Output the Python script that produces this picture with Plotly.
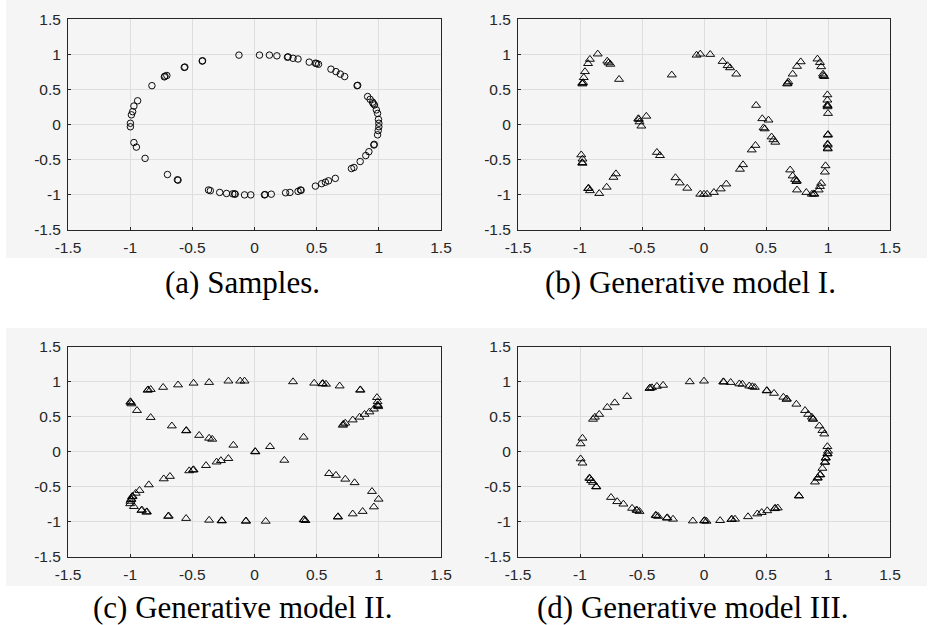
import plotly.graph_objects as go

W, H = 928, 625

tick_vals = [-1.5, -1, -0.5, 0, 0.5, 1, 1.5]
tick_text = ["-1.5", "-1", "-0.5", "0", "0.5", "1", "1.5"]

captions = ["(a) Samples.", "(b) Generative model I.",
            "(c) Generative model II.", "(d) Generative model III."]

# (a) Samples (circles)
a_x = [-0.125, 0.04, 0.12, 0.18, 0.265, 0.27, 0.31, 0.35, 0.44, 0.49, 0.50, 0.515,
       0.615, 0.655, 0.69, 0.725, 0.825, 0.83, 0.91, 0.93, 0.95, 0.955, 0.965, 0.98,
       0.99, 0.997, 1.0, 1.0, 0.995, 0.99, 0.96, 0.963, 0.92, 0.895, 0.85, 0.80, 0.78,
       0.65, 0.595, 0.57, 0.54, 0.49, 0.375, 0.37, 0.35, 0.285, 0.25, 0.135, 0.08,
       0.085, -0.03, -0.08, -0.155, -0.16, -0.175, -0.225, -0.28, -0.355, -0.37,
       -0.615, -0.62, -0.70, -0.88, -0.95, -0.97, -0.998, -0.998, -0.99, -0.98,
       -0.97, -0.94, -0.825, -0.725, -0.72, -0.705, -0.565, -0.56, -0.42, -0.418]
a_y = [0.99, 0.99, 0.99, 0.98, 0.96, 0.965, 0.945, 0.935, 0.89, 0.875, 0.87, 0.86,
       0.79, 0.755, 0.72, 0.685, 0.555, 0.56, 0.40, 0.36, 0.32, 0.30, 0.28, 0.21,
       0.16, 0.075, 0.02, -0.03, -0.085, -0.145, -0.29, -0.28, -0.385, -0.44, -0.525,
       -0.61, -0.625, -0.765, -0.80, -0.82, -0.84, -0.875, -0.935, -0.93, -0.95,
       -0.965, -0.97, -0.99, -1.0, -0.995, -1.0, -1.0, -0.99, -0.985, -0.985, -0.98,
       -0.965, -0.94, -0.93, -0.79, -0.785, -0.71, -0.48, -0.32, -0.255, -0.03, 0.02,
       0.14, 0.185, 0.265, 0.34, 0.555, 0.68, 0.69, 0.70, 0.815, 0.82, 0.905, 0.91]

# (b) Generative model I (triangles)
b_x = [-0.98, -0.982, -0.975, -0.97, -0.96, -0.935, -0.92, -0.857, -0.78, -0.77,
       -0.755, -0.685, -0.26, -0.525, -0.53, -0.52, -0.505, -0.465, -0.38, -0.355,
       -0.23, -0.195, -0.135, -0.03, 0.0, 0.025, 0.08, 0.135, 0.18, -0.06, -0.03,
       0.05, 0.15, 0.19, 0.21, 0.26, 0.29, 0.315, 0.385, 0.415, 0.42, 0.47, 0.52,
       0.48, 0.49, 0.545, 0.56, 0.575, 0.67, 0.675, 0.68, 0.715, 0.75, 0.78, 0.915,
       0.935, 0.945, 0.96, 0.963, 0.97, 0.995, 0.995, 0.995, 0.997, 0.996, 1.0, 1.0,
       0.998, 0.997, 0.998, 0.997, 0.998, 0.98, 0.975, 0.945, 0.935, 0.925, 0.89,
       0.885, 0.87, 0.825, 0.75, 0.745, 0.748, 0.735, 0.715, 0.695, -0.99, -0.98,
       -0.98, -0.982, -0.93, -0.935, -0.92, -0.845, -0.785, -0.73, -0.71]
b_y = [0.58, 0.59, 0.60, 0.67, 0.755, 0.87, 0.93, 1.006, 0.905, 0.88, 0.86, 0.645,
       0.707, 0.075, 0.085, 0.04, -0.02, 0.12, -0.395, -0.44, -0.755, -0.83, -0.905,
       -0.99, -0.99, -0.99, -0.965, -0.915, -0.845, 0.99, 1.005, 1.0, 0.90, 0.84,
       0.81, 0.72, -0.635, -0.57, -0.36, -0.295, 0.275, 0.085, 0.065, -0.045, -0.06,
       -0.175, -0.215, -0.25, 0.58, 0.59, 0.61, 0.72, 0.83, 0.895, 0.935, 0.885,
       0.825, 0.72, 0.70, 0.685, 0.425, 0.35, 0.28, 0.27, 0.255, 0.16, -0.14, -0.15,
       -0.275, -0.29, -0.335, -0.345, -0.585, -0.675, -0.835, -0.88, -0.93, -0.99,
       -0.985, -0.99, -0.965, -0.93, -0.81, -0.8, -0.78, -0.73, -0.645, -0.43, -0.49,
       -0.55, -0.54, -0.905, -0.91, -0.94, -0.98, -0.89, -0.75, -0.70]

# (c) Generative model II (triangles)
c_x = [-0.86, -0.855, -0.835, -0.735, -0.615, -0.49, -0.365, -0.21, -0.115, -0.08,
       0.31, 0.48, 0.545, 0.55, 0.575, 0.685, 0.85, 0.852, 0.985, 0.99, 0.99, 0.993,
       0.995, 0.96, 0.925, 0.885, 0.845, 0.79, 0.73, 0.715, 0.71, -0.998, -0.995,
       -0.99, -0.945, -0.835, -0.665, -0.55, -0.548, -0.445, -0.365, -0.34, -0.17,
       0.005, 0.007, 0.125, 0.24, 0.395, -0.21, -0.27, -0.305, -0.39, -0.495, -0.49,
       -0.525, -0.68, -0.73, -0.85, -0.925, -0.955, -0.98, -0.985, -0.99, -0.993,
       -0.998, -1.0, -0.97, -0.91, -0.905, -0.87, -0.865, -0.695, -0.69, -0.55,
       -0.365, -0.265, -0.262, -0.07, -0.068, 0.09, 0.395, 0.40, 0.41, 0.60, 0.655,
       0.73, 0.805, 0.945, 0.998, 0.96, 0.87, 0.79, 0.67, 0.672]
c_y = [0.88, 0.885, 0.89, 0.92, 0.955, 0.98, 0.99, 1.01, 1.01, 1.01, 1.0, 0.98,
       0.97, 0.975, 0.965, 0.94, 0.88, 0.885, 0.775, 0.715, 0.67, 0.66, 0.645, 0.61,
       0.57, 0.535, 0.495, 0.455, 0.41, 0.395, 0.38, 0.715, 0.705, 0.685, 0.59, 0.49,
       0.37, 0.30, 0.305, 0.235, 0.195, 0.18, 0.095, 0.005, 0.0, 0.075, -0.12, 0.21,
       -0.095, -0.125, -0.145, -0.195, -0.26, -0.255, -0.27, -0.35, -0.385, -0.47,
       -0.55, -0.59, -0.635, -0.64, -0.675, -0.68, -0.705, -0.74, -0.78, -0.835,
       -0.83, -0.86, -0.855, -0.92, -0.915, -0.95, -0.975, -0.98, -0.985, -0.99,
       -0.985, -0.99, -0.97, -0.965, -0.98, -0.31, -0.335, -0.39, -0.44, -0.565,
       -0.675, -0.785, -0.85, -0.885, -0.93, -0.925]

# (d) Generative model III (triangles)
d_x = [-0.115, 0.0, -0.44, -0.435, -0.42, -0.38, -0.33, -0.62, -0.72, -0.78, -0.845,
       -0.88, -0.895, -0.98, -0.995, -0.995, -0.98, -0.925, -0.92, -0.91, -0.895,
       -0.87, -0.868, -0.75, -0.70, -0.65, -0.58, -0.545, -0.54, -0.52, -0.39, -0.385,
       -0.37, -0.30, -0.295, -0.25, -0.09, 0.0, 0.005, 0.02, 0.13, 0.22, 0.225, 0.25,
       0.355, 0.43, 0.465, 0.51, 0.57, 0.575, 0.595, 0.765, 0.767, 0.895, 0.915,
       0.918, 0.935, 0.938, 0.955, 0.975, 0.977, 0.98, 0.983, 0.995, 0.997, 1.0,
       0.995, 0.97, 0.955, 0.93, 0.88, 0.878, 0.87, 0.84, 0.815, 0.745, 0.665, 0.668,
       0.64, 0.565, 0.505, 0.508, 0.41, 0.39, 0.365, 0.31, 0.285, 0.215, 0.155, 0.16]
d_y = [1.0, 1.01, 0.905, 0.91, 0.915, 0.935, 0.95, 0.79, 0.70, 0.635, 0.535, 0.495,
       0.465, 0.195, 0.115, -0.10, -0.16, -0.375, -0.38, -0.41, -0.435, -0.495, -0.5,
       -0.65, -0.71, -0.745, -0.805, -0.83, -0.835, -0.85, -0.905, -0.91, -0.92,
       -0.945, -0.94, -0.96, -0.985, -0.985, -0.98, -0.99, -0.98, -0.965, -0.96,
       -0.96, -0.925, -0.885, -0.865, -0.84, -0.81, -0.805, -0.80, -0.625, -0.63,
       -0.43, -0.375, -0.37, -0.33, -0.325, -0.235, -0.15, -0.145, -0.09, -0.085,
       -0.03, -0.025, 0.01, 0.075, 0.255, 0.305, 0.37, 0.465, 0.47, 0.495, 0.535,
       0.59, 0.68, 0.75, 0.755, 0.78, 0.835, 0.87, 0.875, 0.92, 0.93, 0.94, 0.965,
       0.97, 0.99, 1.0, 0.995]

panels = [
    (a_x, a_y, "circle-open", 6.5),
    (b_x, b_y, "triangle-up-open", 7.8),
    (c_x, c_y, "triangle-up-open", 7.8),
    (d_x, d_y, "triangle-up-open", 7.8),
]

# axes boxes in pixels: (left, right, top, bottom)
boxes = [(68, 441, 19.3, 230), (518, 890, 19.3, 230),
         (68, 441, 346.7, 557), (518, 890, 346.7, 557)]
cap_pos = [(242, 282), (690, 282), (243, 607), (693, 607)]

fig = go.Figure()
layout = dict(width=W, height=H, margin=dict(l=0, r=0, t=0, b=0, autoexpand=False),
              paper_bgcolor="white", plot_bgcolor="#fafafa", showlegend=False)

for i, ((xs, ys, sym, sz), (l, r, t, b)) in enumerate(zip(panels, boxes)):
    n = "" if i == 0 else str(i + 1)
    fig.add_trace(go.Scatter(
        x=xs, y=ys, mode="markers", xaxis="x" + n, yaxis="y" + n,
        marker=dict(symbol=sym, size=sz, color="black",
                    line=dict(color="black", width=0.95)),
        hoverinfo="skip"))
    ax = dict(range=[-1.5, 1.5], tickvals=tick_vals, ticktext=tick_text,
              showgrid=True, gridcolor="#dedede", gridwidth=1, zeroline=False,
              showline=True, mirror=True, linecolor="#262626", linewidth=1,
              ticks="inside", ticklen=3, tickcolor="#262626", automargin=False,
              tickfont=dict(family="Liberation Sans", size=15.5, color="#262626"))
    xa = dict(ax, domain=[l / W, r / W], anchor="y" + n, ticklabelstandoff=3)
    ya = dict(ax, domain=[1 - b / H, 1 - t / H], anchor="x" + n, ticklabelstandoff=3)
    layout["xaxis" + n] = xa
    layout["yaxis" + n] = ya

shapes = [
    dict(type="rect", xref="paper", yref="paper", x0=6 / W, x1=927 / W,
         y0=1 - 258 / H, y1=1.0, fillcolor="#f5f5f5", line=dict(width=0), layer="below"),
    dict(type="rect", xref="paper", yref="paper", x0=6 / W, x1=927 / W,
         y0=1 - 586 / H, y1=1 - 328 / H, fillcolor="#f5f5f5", line=dict(width=0), layer="below"),
]
annotations = []
for txt, (cx, cy) in zip(captions, cap_pos):
    annotations.append(dict(text=txt, xref="paper", yref="paper", x=cx / W, y=1 - cy / H,
                            xanchor="center", yanchor="middle", showarrow=False,
                            font=dict(family="Liberation Serif", size=31, color="black")))
layout["shapes"] = shapes
layout["annotations"] = annotations
fig.update_layout(**layout)
fig.write_html("out.html", config={"displayModeBar": False, "staticPlot": True},
               post_script="document.body.style.margin='0';document.body.style.overflow='hidden';")
